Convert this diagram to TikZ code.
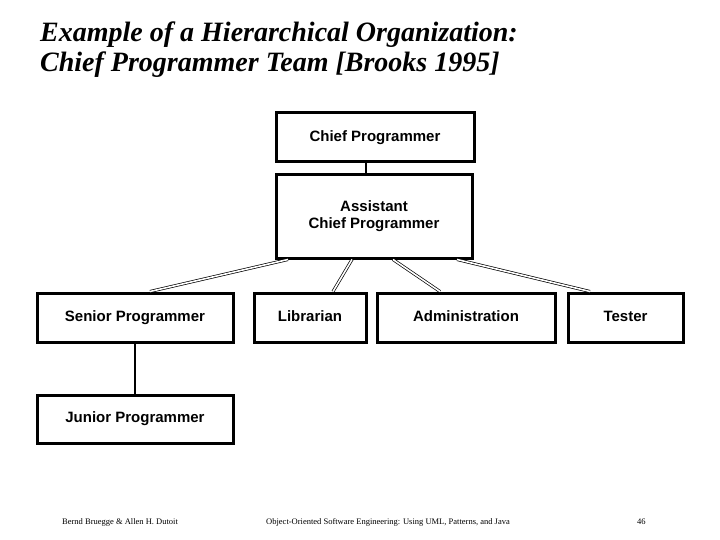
\documentclass[tikz,border=0pt]{standalone}
\usepackage{fontspec}
\setmainfont{Liberation Serif}
\newfontfamily\boxfont{Liberation Sans}
\usetikzlibrary{calc}
\tikzset{
  rolebox/.style={draw=black, line width=3pt, fill=white, inner sep=2pt,
    minimum height=49pt, align=center, text height=10.5pt, text depth=3pt,
    font=\boxfont\bfseries\fontsize{15}{17}\selectfont},
  dblink/.style={draw=black, line width=0.7pt, double=white, double distance=1.6pt},
  thinlink/.style={draw=black, line width=1.2pt},
  titletext/.style={anchor=base west, inner sep=0pt, font=\bfseries\itshape\fontsize{28}{30}\selectfont},
  foottext/.style={anchor=base west, inner sep=0pt, font=\fontsize{8.5}{10}\selectfont}
}
\begin{document}
\begin{tikzpicture}[x=1pt,y=-1pt]
\useasboundingbox[fill=white] (0,0) rectangle (720,540);
% title
\node[titletext] (t1) at (40,42) {Example of a Hierarchical Organization:};
\node[titletext] (t2) at (40,72) {Chief Programmer Team [Brooks 1995]};
% boxes
\node[rolebox, minimum width=198pt] (cp) at (375,137.5) {Chief Programmer};
\node[rolebox, minimum width=196pt, minimum height=83pt, text height=, text depth=] (acp) at (374,216.5) {Assistant\\Chief Programmer};
\node[rolebox, minimum width=196pt] (sen) at (135,317.5) {Senior Programmer};
\node[rolebox, minimum width=112pt] (lib) at (310,317.5) {Librarian};
\node[rolebox, minimum width=178pt] (adm) at (466,317.5) {Administration};
\node[rolebox, minimum width=115pt] (tst) at (625.5,317.5) {Tester};
\node[rolebox, minimum width=196pt, minimum height=48pt] (jun) at (135,419) {Junior Programmer};
% connectors
\draw[thinlink] ([xshift=-9pt]cp.south) -- ([xshift=-9pt]cp.south |- acp.north);
\draw[dblink] ([xshift=-86pt]acp.south) -- ([xshift=15pt]sen.north);
\draw[dblink] ([xshift=-22pt]acp.south) -- ([xshift=23pt]lib.north);
\draw[dblink] ([xshift=19pt]acp.south) -- ([xshift=-26pt]adm.north);
\draw[dblink] ([xshift=83pt]acp.south) -- ([xshift=-35.5pt]tst.north);
\draw[thinlink] (sen.south) -- (jun.north);
% footer
\node[foottext] (f1) at (62,524) {Bernd Bruegge \& Allen H. Dutoit};
\node[foottext] (f2) at (266,524) {Object-Oriented Software Engineering: Using UML, Patterns, and Java};
\node[foottext] (f3) at (637,524) {46};
\end{tikzpicture}
\end{document}
